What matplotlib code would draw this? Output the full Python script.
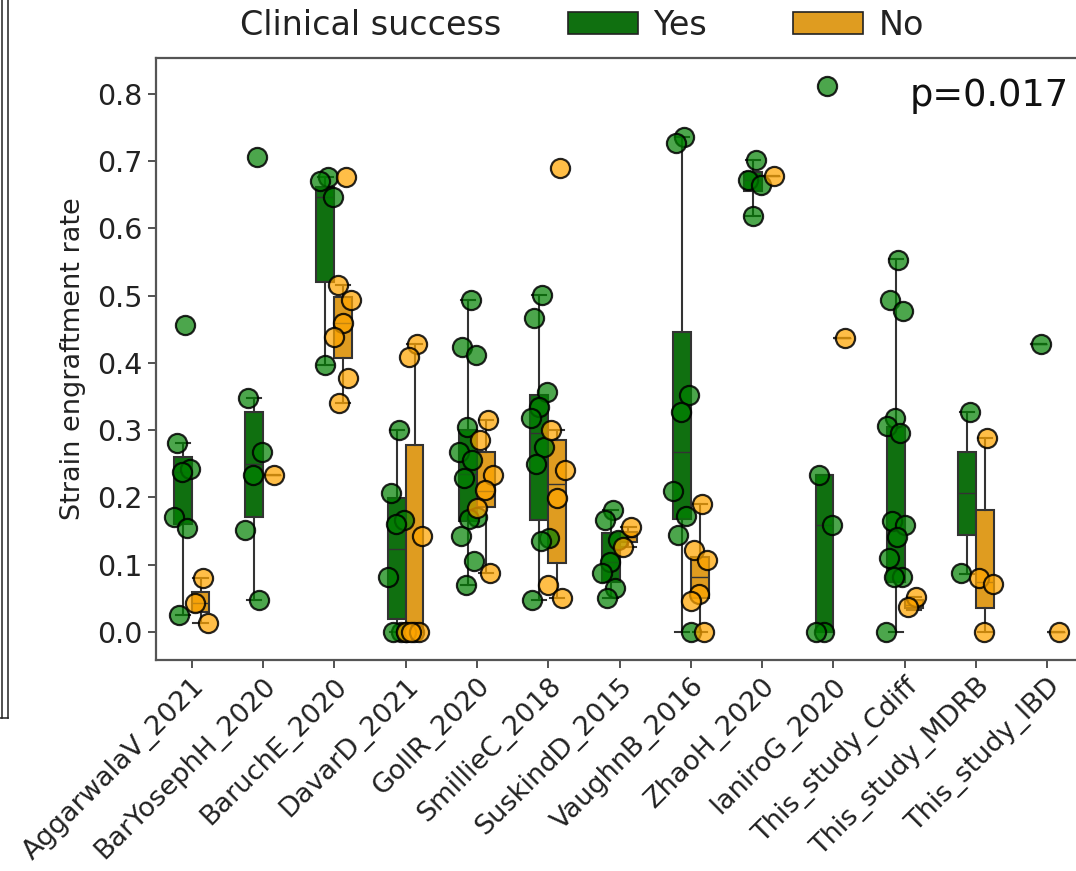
import numpy as np
import matplotlib
matplotlib.use("Agg")
import matplotlib.pyplot as plt
from matplotlib.patches import Patch
from matplotlib.lines import Line2D

# studies on the x axis
studies = ["AggarwalaV_2021", "BarYosephH_2020", "BaruchE_2020", "DavarD_2021",
           "GollR_2020", "SmillieC_2018", "SuskindD_2015", "VaughnB_2016",
           "ZhaoH_2020", "IaniroG_2020", "This_study_Cdiff", "This_study_MDRB",
           "This_study_IBD"]

# strain engraftment rate per sample, clinical success = Yes
yes_points = [
    [0.456, 0.281, 0.242, 0.238, 0.171, 0.155, 0.025],
    [0.706, 0.347, 0.267, 0.233, 0.152, 0.047],
    [0.676, 0.670, 0.647, 0.397],
    [0.300, 0.206, 0.166, 0.160, 0.082, 0.0, 0.0, 0.0],
    [0.493, 0.423, 0.411, 0.305, 0.268, 0.255, 0.229, 0.171, 0.168, 0.142, 0.105, 0.070],
    [0.501, 0.467, 0.357, 0.334, 0.318, 0.275, 0.250, 0.140, 0.135, 0.048],
    [0.181, 0.166, 0.137, 0.104, 0.088, 0.065, 0.051],
    [0.735, 0.727, 0.352, 0.327, 0.210, 0.173, 0.144, 0.0],
    [0.701, 0.672, 0.665, 0.618],
    [0.811, 0.233, 0.159, 0.0, 0.0],
    [0.553, 0.494, 0.477, 0.318, 0.306, 0.296, 0.165, 0.159, 0.141, 0.110, 0.082, 0.082, 0.0],
    [0.327, 0.088],
    [0.428],
]

# clinical success = No
no_points = [
    [0.080, 0.043, 0.013],
    [0.233],
    [0.676, 0.516, 0.493, 0.459, 0.438, 0.377, 0.340],
    [0.428, 0.409, 0.142, 0.0, 0.0, 0.0, 0.0],
    [0.315, 0.285, 0.233, 0.211, 0.184, 0.088],
    [0.689, 0.300, 0.241, 0.199, 0.070, 0.051],
    [0.156, 0.127],
    [0.190, 0.122, 0.107, 0.056, 0.046, 0.0],
    [0.677],
    [0.437],
    [0.052, 0.037],
    [0.288, 0.080, 0.072, 0.0],
    [0.0],
]

# box stats: (whisker low, q1, median, q3, whisker high)
yes_box = [
    (0.025, 0.160, 0.238, 0.260, 0.281),
    (0.047, 0.171, 0.250, 0.327, 0.347),
    (0.397, 0.520, 0.647, 0.661, 0.676),
    (0.0, 0.020, 0.124, 0.199, 0.300),
    (0.070, 0.165, 0.235, 0.300, 0.493),
    (0.048, 0.166, 0.295, 0.352, 0.501),
    (0.051, 0.074, 0.104, 0.147, 0.181),
    (0.0, 0.168, 0.267, 0.446, 0.735),
    (0.618, 0.656, 0.672, 0.684, 0.701),
    (0.0, 0.0, 0.159, 0.233, 0.233),
    (0.0, 0.075, 0.150, 0.304, 0.555),
    (0.086, 0.144, 0.207, 0.267, 0.327),
    (0.428, 0.428, 0.428, 0.428, 0.428),
]
no_box = [
    (0.013, 0.030, 0.043, 0.060, 0.080),
    (0.233, 0.233, 0.233, 0.233, 0.233),
    (0.340, 0.407, 0.459, 0.498, 0.516),
    (0.0, 0.0, 0.0, 0.278, 0.428),
    (0.088, 0.185, 0.210, 0.268, 0.315),
    (0.051, 0.102, 0.220, 0.285, 0.300),
    (0.127, 0.134, 0.141, 0.149, 0.156),
    (0.0, 0.050, 0.082, 0.112, 0.190),
    (0.677, 0.677, 0.677, 0.677, 0.677),
    (0.437, 0.437, 0.437, 0.437, 0.437),
    (0.032, 0.036, 0.040, 0.048, 0.052),
    (0.0, 0.036, 0.075, 0.181, 0.288),
    (0.0, 0.0, 0.0, 0.0, 0.0),
]

YES_BOX = "#107010"
NO_BOX = "#df9c20"
YES_DOT = (0.0, 0.5, 0.0, 0.7)
NO_DOT = (1.0, 0.647, 0.0, 0.72)
LINE = "#333333"


def draw_group(ax, box_stats, points, shift, box_color, dot_color):
    stats = [dict(whislo=b[0], q1=b[1], med=b[2], q3=b[3], whishi=b[4]) for b in box_stats]
    pos = np.arange(len(stats)) + shift
    ax.bxp(stats, positions=pos, widths=0.25, capwidths=0.2, patch_artist=True,
           showfliers=False, manage_ticks=False,
           boxprops=dict(facecolor=box_color, edgecolor=LINE, linewidth=1.5),
           whiskerprops=dict(color=LINE, linewidth=1.5),
           capprops=dict(color=LINE, linewidth=1.5),
           medianprops=dict(color=LINE, linewidth=1.0))
    # deterministic jitter so the dots spread around each box
    for x0, vals in zip(pos, points):
        k = np.arange(1, len(vals) + 1)
        xs = x0 + ((k * 0.618034) % 1 - 0.5) * 0.3
        ax.scatter(xs, vals, s=190, c=[dot_color], edgecolors=[(0, 0, 0, 0.85)],
                   linewidths=1.6, zorder=3)


fig = plt.figure(figsize=(10.76, 8.71), dpi=100)
ax = fig.add_axes([0.145, 0.2423, 0.8615, 0.6911])

draw_group(ax, yes_box, yes_points, -0.125, YES_BOX, YES_DOT)
draw_group(ax, no_box, no_points, 0.125, NO_BOX, NO_DOT)

ax.set_xlim(-0.5, 12.5)
ax.set_ylim(-0.0416, 0.853)
ax.set_xticks(np.arange(len(studies)))
ax.set_xticklabels(studies, rotation=45, ha="right", rotation_mode="anchor")
ax.set_yticks(np.arange(0, 0.81, 0.1))
ax.set_yticklabels([f"{v:.1f}" for v in np.arange(0, 0.81, 0.1)])
ax.tick_params(axis="y", labelsize=20.5)
ax.tick_params(axis="x", labelsize=19.5)
ax.tick_params(length=6, width=1.3, color="#444444", labelcolor="#222222")
ax.set_ylabel("Strain engraftment rate", fontsize=19.5, color="#222222", labelpad=8)
for sp in ax.spines.values():
    sp.set_linewidth(1.6)
    sp.set_color("#555555")

# legend across the top
fig.text(240 / 1076, 0.971, "Clinical success", fontsize=24, va="center", color="#222222")
handles = [Patch(facecolor=YES_BOX, edgecolor="#222222", linewidth=1.2),
           Patch(facecolor=NO_BOX, edgecolor="#222222", linewidth=1.2)]
fig.legend(handles, ["Yes", "No"], ncol=2, loc="center left",
           bbox_to_anchor=(568 / 1076, 0.971), frameon=False, fontsize=24,
           handlelength=2.1, handleheight=0.6, handletextpad=0.45,
           columnspacing=2.6, borderpad=0, borderaxespad=0, labelcolor="#222222")

fig.text(910 / 1076, 1 - 95 / 871, "p=0.017", fontsize=26.5, va="center", color="#111111")

# edge of the neighbouring panel at the far left
yb = 1 - 718 / 871
for xp in (2 / 1076, 7.5 / 1076):
    fig.add_artist(Line2D([xp, xp], [yb, 1], transform=fig.transFigure, color="#222222", lw=1.1))
fig.add_artist(Line2D([0, 7.5 / 1076], [yb, yb], transform=fig.transFigure, color="#222222", lw=1.1))

fig.savefig("out.png", dpi=100)
